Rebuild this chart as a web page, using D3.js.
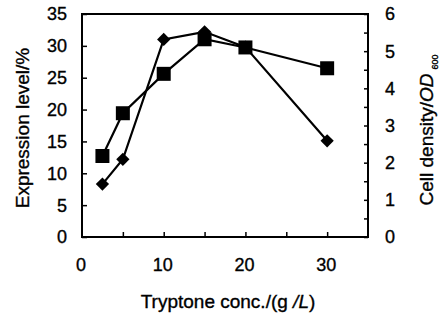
<!DOCTYPE html>
<html><head><meta charset="utf-8">
<script src="https://cdn.jsdelivr.net/npm/d3@7"></script>
<style>body{margin:0;background:#fff}svg{display:block}text{font-family:"Liberation Sans",Arial,sans-serif;fill:#000;stroke:#000;stroke-width:0.35px}</style>
</head><body>
<svg id="c" width="447" height="318"></svg>
<script>
const conc = [2.5, 5, 10, 15, 20, 30];
const expression = [8.3, 12.2, 31.0, 32.2, 29.8, 15.1];
const density = [2.18, 3.33, 4.39, 5.32, 5.1, 4.54];
const xTickLabels = [0, 10, 20, 30];
const leftTicks = [0, 5, 10, 15, 20, 25, 30, 35];
const rightTicks = [0, 1, 2, 3, 4, 5, 6];

const svg = d3.select("#c");
const L = 82, R = 368, T = 14, B = 237;
const x = d3.scaleLinear().domain([0, 35]).range([L, R]);
const yL = d3.scaleLinear().domain([0, 35]).range([B, T]);
const yR = d3.scaleLinear().domain([0, 6]).range([B, T]);
const fs = 18;

// axes with inward ticks
const gx = svg.append("g").attr("transform", `translate(0,${B})`)
  .call(d3.axisTop(x).tickValues([5,10,15,20,25,30]).tickSize(5).tickFormat(""));
const gl = svg.append("g").attr("transform", `translate(${L},0)`)
  .call(d3.axisRight(yL).tickValues(leftTicks).tickSize(5).tickFormat(""));
const gr = svg.append("g").attr("transform", `translate(${R},0)`)
  .call(d3.axisLeft(yR).tickValues(d3.range(0, 6.01, 0.5)).tickSize(4).tickFormat(""));
[gx, gl, gr].forEach(g => { g.select(".domain").remove(); g.selectAll("line").attr("stroke", "#000").attr("stroke-width", 1.5); });

// frame
svg.append("rect").attr("x", L).attr("y", T).attr("width", R - L).attr("height", B - T)
  .attr("fill", "none").attr("stroke", "#000").attr("stroke-width", 2);

// tick labels
svg.selectAll(".tl").data(leftTicks).join("text").attr("x", 67).attr("y", d => yL(d))
  .attr("text-anchor", "end").attr("dy", "0.36em").attr("font-size", fs).text(d => d);
svg.selectAll(".tr").data(rightTicks).join("text").attr("x", 385).attr("y", d => yR(d))
  .attr("text-anchor", "start").attr("dy", "0.36em").attr("font-size", fs).text(d => d);
svg.selectAll(".tx").data(xTickLabels).join("text").attr("x", d => x(d) - 1).attr("y", 265)
  .attr("text-anchor", "middle").attr("dy", "0.36em").attr("font-size", fs).text(d => d);

// axis titles
const xt = svg.append("text").attr("x", 228).attr("y", 308).attr("text-anchor", "middle").attr("font-size", 19);
xt.append("tspan").text("Tryptone conc./(g ");
xt.append("tspan").attr("font-style", "italic").text("/L");
xt.append("tspan").text(")");

svg.append("text").attr("transform", "translate(29,128) rotate(-90)").attr("text-anchor", "middle")
  .attr("font-size", 19).text("Expression level/%");

const rt = svg.append("text").attr("transform", "translate(433,130) rotate(-90)").attr("text-anchor", "middle").attr("font-size", 19);
rt.append("tspan").text("Cell density/");
rt.append("tspan").attr("font-style", "italic").text("OD");
rt.append("tspan").attr("font-size", 9).attr("dy", 5).attr("dx", 4).text("600");

// series
const lineE = d3.line().x((d, i) => x(conc[i])).y(d => yL(d));
const lineD = d3.line().x((d, i) => x(conc[i])).y(d => yR(d));
svg.append("path").attr("d", lineD(density)).attr("fill", "none").attr("stroke", "#000").attr("stroke-width", 2.2);
svg.append("path").attr("d", lineE(expression)).attr("fill", "none").attr("stroke", "#000").attr("stroke-width", 2.2);

svg.selectAll(".sq").data(density).join("path")
  .attr("transform", (d, i) => `translate(${x(conc[i])},${yR(d)})`)
  .attr("d", d3.symbol(d3.symbolSquare, 196)()).attr("fill", "#000");
svg.selectAll(".di").data(expression).join("path")
  .attr("transform", (d, i) => `translate(${x(conc[i])},${yL(d)}) rotate(45)`)
  .attr("d", d3.symbol(d3.symbolSquare, 88)()).attr("fill", "#000");
</script>
</body></html>
